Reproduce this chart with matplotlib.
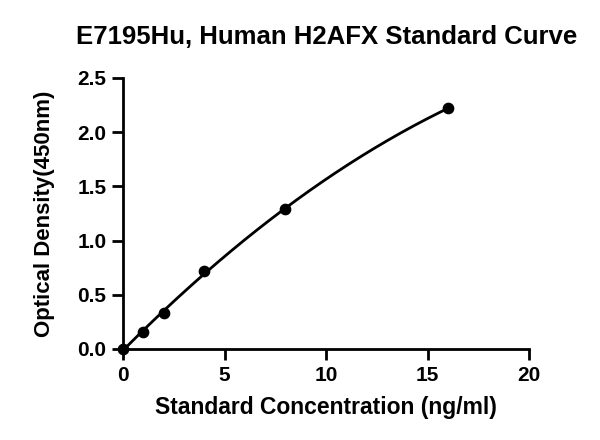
import numpy as np
import matplotlib.pyplot as plt

plt.rcParams['font.family'] = ['Liberation Sans', 'DejaVu Sans']
plt.rcParams['font.weight'] = 'bold'

conc = [0, 1, 2, 4, 8, 16]
od = [0.0, 0.16, 0.33, 0.72, 1.29, 2.22]
xticks = [0, 5, 10, 15, 20]
yticks = [0.0, 0.5, 1.0, 1.5, 2.0, 2.5]

fig = plt.figure(figsize=(6, 4.4), dpi=100)
ax = fig.add_axes([0.205, 0.207, 0.677, 0.616])

# fitted curve through the standards
coef = np.polyfit(conc, od, 2)
xs = np.linspace(min(conc), max(conc), 200)
ax.plot(xs, np.polyval(coef, xs), color='black', lw=2, zorder=2)
ax.scatter(conc, od, s=55, color='black', zorder=3, clip_on=False)

ax.set_xlim(0, 20)
ax.set_ylim(0, 2.5)
ax.set_xticks(xticks)
ax.set_yticks(yticks)
ax.set_yticklabels(['%.1f' % v for v in yticks])
for s in ['top', 'right']:
    ax.spines[s].set_visible(False)
for s in ['left', 'bottom']:
    ax.spines[s].set_linewidth(2)
ax.tick_params(width=2, length=8, labelsize=15, pad=4)
for lab in ax.get_xticklabels() + ax.get_yticklabels():
    lab.set_fontweight('bold')

ax.set_xlabel('Standard Concentration (ng/ml)', fontsize=16.5, fontweight='bold', labelpad=8)
ax.set_ylabel('Optical Density(450nm)', fontsize=16, fontweight='bold', labelpad=16)
fig.text(0.545, 0.916, 'E7195Hu, Human H2AFX Standard Curve', ha='center', va='center',
         fontsize=18.5, fontweight='bold')

fig.savefig('out.png', dpi=100)
